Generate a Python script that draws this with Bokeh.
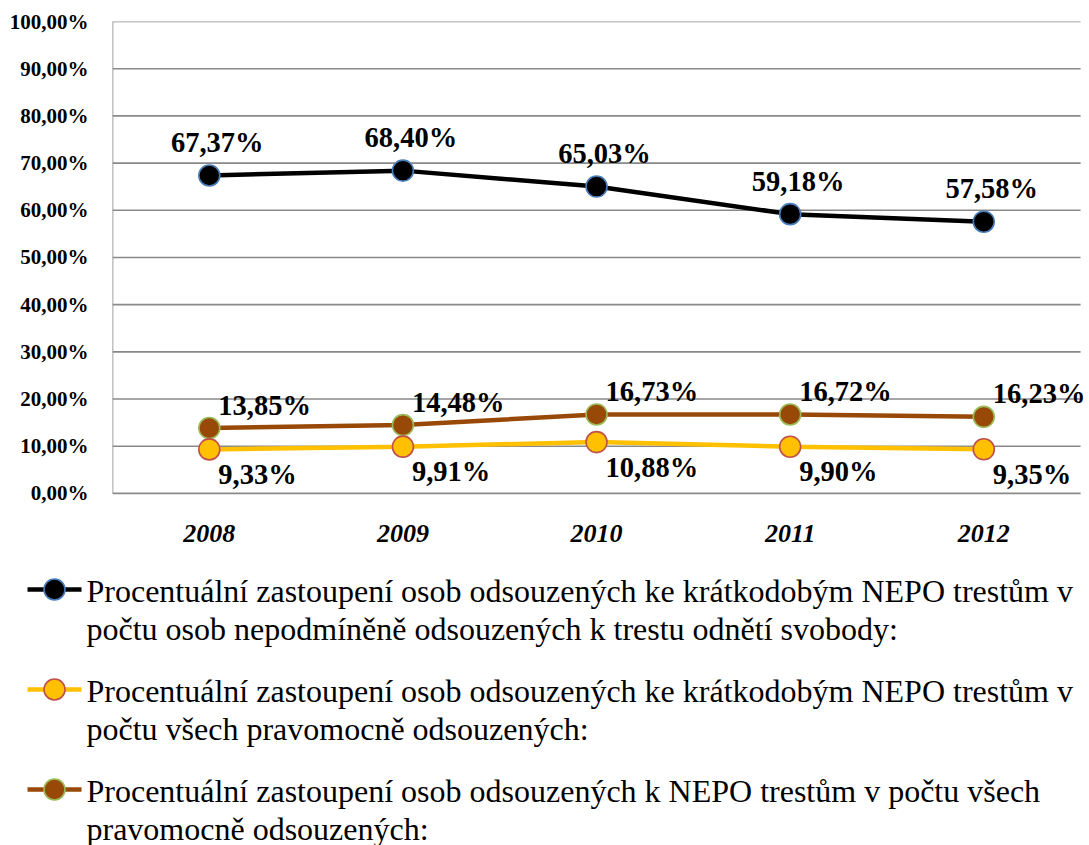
from bokeh.plotting import figure
from bokeh.models import Range1d, FixedTicker, CustomJSTickFormatter
from bokeh.core.properties import value
from bokeh.embed import file_html
from bokeh.resources import INLINE

years = ["2008", "2009", "2010", "2011", "2012"]
s_nepodm = [67.37, 68.40, 65.03, 59.18, 57.58]
s_kratk = [9.33, 9.91, 10.88, 9.90, 9.35]
s_nepo = [13.85, 14.48, 16.73, 16.72, 16.23]
y_ticks = [0, 10, 20, 30, 40, 50, 60, 70, 80, 90, 100]

legend_lines = [
    ["Procentuální zastoupení osob odsouzených ke krátkodobým NEPO trestům v",
     "počtu osob nepodmíněně odsouzených k trestu odnětí svobody:"],
    ["Procentuální zastoupení osob odsouzených ke krátkodobým NEPO trestům v",
     "počtu všech pravomocně odsouzených:"],
    ["Procentuální zastoupení osob odsouzených k NEPO trestům v počtu všech",
     "pravomocně odsouzených:"],
]

def fmt(v):
    return ("%.2f" % v).replace(".", ",") + "%"

SERIF = "Liberation Serif"
GRID = "#898989"

xs = list(range(len(years)))
x_lo, x_hi = -0.5, len(years) - 0.5

p = figure(width=1089, height=560, output_backend="svg", toolbar_location=None,
           x_range=Range1d(x_lo, x_hi + 0.046), y_range=Range1d(-1.5, 100),
           min_border_left=112, min_border_right=0, min_border_top=21,
           min_border_bottom=60)
p.outline_line_color = None
p.background_fill_color = "white"
p.border_fill_color = "white"
p.grid.grid_line_color = None

# horizontal gridlines and left axis line drawn within the category span
p.segment(x0=[x_lo] * len(y_ticks), x1=[x_hi] * len(y_ticks), y0=y_ticks, y1=y_ticks,
          line_color=GRID, line_width=1.6)
p.segment(x0=[x_lo], x1=[x_lo], y0=[y_ticks[0]], y1=[y_ticks[-1]],
          line_color=GRID, line_width=1.6)

p.yaxis.ticker = FixedTicker(ticks=y_ticks)
p.yaxis.formatter = CustomJSTickFormatter(
    code="return tick.toFixed(2).replace('.', ',') + '%';")
p.yaxis.axis_line_color = None
p.yaxis.major_tick_line_color = None
p.yaxis.minor_tick_line_color = None
p.yaxis.major_tick_out = 0
p.yaxis.major_tick_in = 0
p.yaxis.major_label_text_font = SERIF
p.yaxis.major_label_text_font_style = "bold"
p.yaxis.major_label_text_font_size = "21px"
p.yaxis.major_label_text_color = "black"
p.yaxis.major_label_standoff = 24

p.xaxis.ticker = FixedTicker(ticks=xs)
p.xaxis.major_label_overrides = {i: y for i, y in enumerate(years)}
p.xaxis.axis_line_color = None
p.xaxis.major_tick_line_color = None
p.xaxis.minor_tick_line_color = None
p.xaxis.major_tick_out = 0
p.xaxis.major_tick_in = 0
p.xaxis.major_label_text_font = SERIF
p.xaxis.major_label_text_font_style = "bold italic"
p.xaxis.major_label_text_font_size = "26px"
p.xaxis.major_label_text_color = "black"
p.xaxis.major_label_standoff = 24

series = [
    (s_nepodm, "black", "black", "#4a7ebb"),
    (s_nepo, "#984807", "#984807", "#9bbb59"),
    (s_kratk, "#ffc000", "#ffc000", "#c0504d"),
]
for vals, lc, fc, oc in series:
    p.line(xs, vals, line_color=lc, line_width=4.5)
    p.scatter(xs, vals, size=21, fill_color=fc, line_color=oc, line_width=1.6)

lab_font = dict(text_font=value(SERIF), text_font_style="bold",
                text_font_size="28.5px", text_color="black")
p.text(xs, s_nepodm, text=[fmt(v) for v in s_nepodm], x_offset=8, y_offset=-33,
       text_align="center", text_baseline="alphabetic", **lab_font)
p.text(xs, s_nepo, text=[fmt(v) for v in s_nepo], x_offset=9, y_offset=-23,
       text_align="left", text_baseline="alphabetic", **lab_font)
p.text(xs, s_kratk, text=[fmt(v) for v in s_kratk], x_offset=9, y_offset=25,
       text_align="left", text_baseline="alphabetic", **lab_font)

# legend panel (separate root, so its frame is not aligned to the chart's)
L = figure(width=1089, height=285, output_backend="svg", toolbar_location=None,
           x_range=Range1d(0, 1089), y_range=Range1d(285, 0),
           min_border_left=0, min_border_right=0, min_border_top=0,
           min_border_bottom=0)
L.axis.visible = False
L.grid.grid_line_color = None
L.outline_line_color = None
L.background_fill_color = "white"
L.border_fill_color = "white"

entry_y = [29, 129, 229]
for (vals, lc, fc, oc), ey, lines in zip(
        [series[0], series[2], series[1]], entry_y, legend_lines):
    L.line([27, 81], [ey, ey], line_color=lc, line_width=4.5)
    L.scatter([54], [ey], size=21, fill_color=fc, line_color=oc, line_width=1.6)
    L.text([86, 86], [ey + 1, ey + 39], text=lines,
           text_font=value(SERIF), text_font_size="32px", text_color="black",
           text_align="left", text_baseline="alphabetic")

open("out.html", "w").write(file_html([p, L], INLINE))
